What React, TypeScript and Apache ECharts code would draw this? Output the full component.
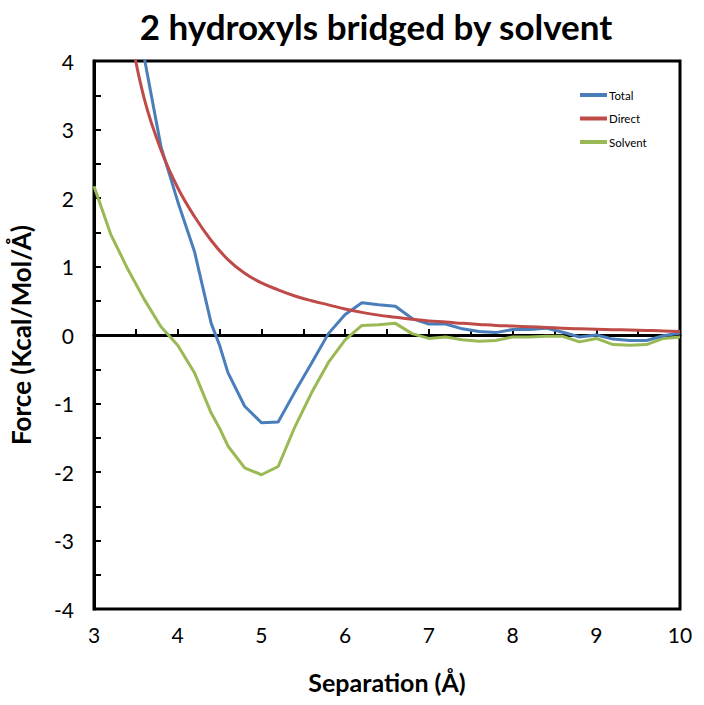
import React, { useEffect, useRef } from "react";
import * as echarts from "echarts";

const seriesNames = ["Total", "Direct", "Solvent"];

const totalSep = [3.0, 3.2, 3.4, 3.6, 3.8, 4.0, 4.2, 4.4, 4.5, 4.6, 4.8, 5.0, 5.2, 5.4, 5.6, 5.8, 6.0, 6.2, 6.4, 6.6, 6.8, 7.0, 7.2, 7.4, 7.6, 7.8, 8.0, 8.2, 8.4, 8.6, 8.8, 9.0, 9.2, 9.4, 9.6, 9.8, 10.0];
const totalForce = [10.0, 7.6, 5.6, 4.05, 2.75, 1.95, 1.22, 0.17, -0.15, -0.55, -1.04, -1.28, -1.27, -0.83, -0.41, 0.02, 0.3, 0.47, 0.44, 0.42, 0.24, 0.16, 0.16, 0.09, 0.05, 0.035, 0.08, 0.08, 0.1, 0.04, -0.03, 0.0, -0.06, -0.08, -0.08, -0.01, 0.03];

const directSep = [3.0, 3.2, 3.4, 3.6, 3.8, 4.0, 4.2, 4.4, 4.6, 4.8, 5.0, 5.2, 5.4, 5.6, 5.8, 6.0, 6.2, 6.4, 6.6, 6.8, 7.0, 7.2, 7.4, 7.6, 7.8, 8.0, 8.2, 8.4, 8.6, 8.8, 9.0, 9.2, 9.4, 9.6, 9.8, 10.0];
const directForce = [7.5, 5.8, 4.6, 3.45, 2.7, 2.15, 1.73, 1.38, 1.1, 0.9, 0.76, 0.66, 0.57, 0.5, 0.44, 0.38, 0.33, 0.29, 0.26, 0.23, 0.205, 0.19, 0.17, 0.155, 0.14, 0.13, 0.12, 0.11, 0.1, 0.09, 0.085, 0.078, 0.072, 0.066, 0.06, 0.05];

const solventSep = totalSep;
const solventForce = [2.17, 1.47, 0.97, 0.52, 0.12, -0.15, -0.55, -1.14, -1.36, -1.62, -1.94, -2.04, -1.92, -1.34, -0.84, -0.4, -0.07, 0.14, 0.15, 0.17, 0.02, -0.05, -0.03, -0.07, -0.09, -0.08, -0.03, -0.03, -0.02, -0.02, -0.1, -0.05, -0.14, -0.15, -0.14, -0.05, -0.03];

const colors = ["#4A7EBB", "#BE4B48", "#98B954"];
const FONT = "Lato, 'Open Sans', sans-serif";

function pairs(xs: number[], ys: number[]) {
  return xs.map((x, i) => [x, ys[i]]);
}

export default function App() {
  const ref = useRef<HTMLDivElement>(null);
  useEffect(() => {
    if (!ref.current) return;
    const chart = echarts.init(ref.current, null, { renderer: "svg" });
    chart.setOption({
      animation: false,
      backgroundColor: "#fff",
      title: {
        text: "2 hydroxyls bridged by solvent",
        left: 371,
        textAlign: "center",
        top: 3,
        textStyle: { fontFamily: FONT, fontWeight: "bold", fontSize: 35, color: "#000" },
      },
      legend: {
        orient: "vertical",
        left: 575,
        top: 84,
        itemWidth: 27,
        itemHeight: 4,
        itemGap: 11.5,
        icon: "rect",
        data: seriesNames,
        textStyle: { fontFamily: FONT, fontSize: 11.5, color: "#000", padding: [0, 0, 0, -3] },
      },
      grid: {
        left: 90,
        right: 24,
        top: 61,
        bottom: 96,
        show: true,
        borderColor: "#000",
        borderWidth: 3,
        backgroundColor: "transparent",
      },
      xAxis: {
        type: "value",
        min: 3,
        max: 10,
        interval: 0.5,
        name: "Separation (Å)",
        nameLocation: "middle",
        nameGap: 60,
        nameTextStyle: { fontFamily: FONT, fontWeight: "bold", fontSize: 25, color: "#000" },
        axisLine: { show: true, lineStyle: { color: "#000", width: 3 } },
        axisTick: { show: true, inside: true, length: 6, lineStyle: { color: "#000", width: 2 } },
        splitLine: { show: false },
        axisLabel: {
          fontFamily: FONT,
          fontSize: 21,
          color: "#000",
          margin: 15,
          formatter: (v: number) => (Number.isInteger(v) ? String(v) : ""),
        },
      },
      yAxis: {
        type: "value",
        min: -4,
        max: 4,
        interval: 0.5,
        name: "Force (Kcal/Mol/Å)",
        nameLocation: "middle",
        nameGap: 60,
        nameTextStyle: { fontFamily: FONT, fontWeight: "bold", fontSize: 26, color: "#000" },
        axisLine: { show: true, lineStyle: { color: "#000", width: 3 } },
        axisTick: { show: true, inside: true, length: 7, lineStyle: { color: "#000", width: 2 } },
        splitLine: { show: false },
        axisLabel: {
          fontFamily: FONT,
          fontSize: 21,
          color: "#000",
          margin: 20,
          formatter: (v: number) => (Number.isInteger(v) ? String(v) : ""),
        },
      },
      series: [
        {
          name: seriesNames[0],
          type: "line",
          data: pairs(totalSep, totalForce),
          showSymbol: false,
          color: colors[0],
          lineStyle: { width: 3, color: colors[0] },
          z: 3,
          markLine: {
            silent: true,
            symbol: "none",
            label: { show: false },
            lineStyle: { color: "#000", width: 3, type: "solid" },
            data: [{ yAxis: 0 }],
            z: 1,
          },
        },
        {
          name: seriesNames[1],
          type: "line",
          data: pairs(directSep, directForce),
          showSymbol: false,
          smooth: 0.4,
          color: colors[1],
          lineStyle: { width: 3, color: colors[1] },
          z: 4,
        },
        {
          name: seriesNames[2],
          type: "line",
          data: pairs(solventSep, solventForce),
          showSymbol: false,
          color: colors[2],
          lineStyle: { width: 3, color: colors[2] },
          z: 2,
        },
      ],
    });
    return () => chart.dispose();
  }, []);
  return <div ref={ref} style={{ width: 704, height: 705, position: "absolute", left: 0, top: 0 }} />;
}
